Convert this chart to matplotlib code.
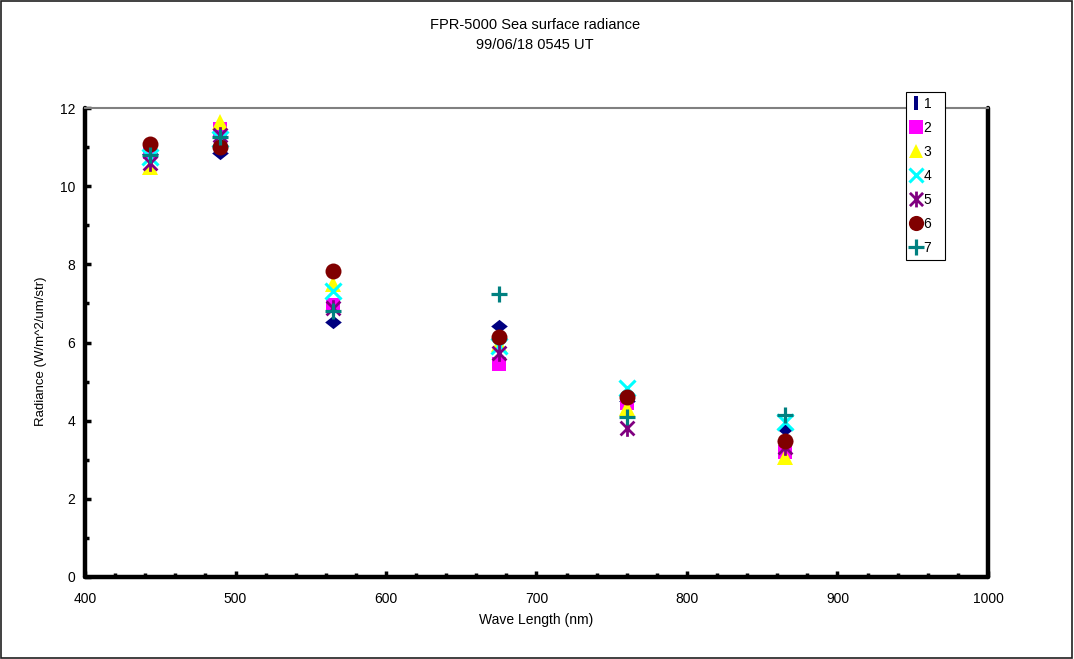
import matplotlib
matplotlib.use("Agg")
import matplotlib.pyplot as plt
from matplotlib.lines import Line2D
from matplotlib.path import Path
from matplotlib.patches import Rectangle
from matplotlib.ticker import MultipleLocator

plt.rcParams['font.family'] = ['Liberation Sans', 'DejaVu Sans']

# Band centre wavelengths (nm)
wavelength = [443, 490, 565, 675, 760, 865]

# Radiance per scan (W/m^2/um/str)
scan1 = [10.82, 10.85, 6.52, 6.42, 4.50, 3.78]
scan2 = [10.88, 11.45, 6.95, 5.45, 4.45, 3.20]
scan3 = [10.50, 11.65, 7.50, 5.95, 4.32, 3.08]
scan4 = [10.75, 11.20, 7.33, 5.90, 4.84, 3.97]
scan5 = [10.58, 11.30, 6.88, 5.73, 3.82, 3.33]
scan6 = [11.07, 11.00, 7.83, 6.15, 4.60, 3.47]
scan7 = [10.80, 11.25, 6.80, 7.25, 4.10, 4.15]

labels = ['1', '2', '3', '4', '5', '6', '7']

# asterisk: an X with a vertical stroke
star_path = Path(
    [(-0.5, -0.5), (0.5, 0.5), (-0.5, 0.5), (0.5, -0.5), (0, -0.6), (0, 0.6)],
    [Path.MOVETO, Path.LINETO, Path.MOVETO, Path.LINETO, Path.MOVETO, Path.LINETO])
bar_path = Path([(-0.12, -0.5), (0.12, -0.5), (0.12, 0.5), (-0.12, 0.5), (-0.12, -0.5)],
                [Path.MOVETO, Path.LINETO, Path.LINETO, Path.LINETO, Path.CLOSEPOLY])
# wide diamond
diamond_path = Path([(0, -0.4), (0.5, 0), (0, 0.4), (-0.5, 0), (0, -0.4)],
                    [Path.MOVETO, Path.LINETO, Path.LINETO, Path.LINETO, Path.CLOSEPOLY])

styles = [
    dict(marker=diamond_path, color='#000080', ms=12, mew=0),
    dict(marker='s', color='#FF00FF', ms=10.5, mew=0),
    dict(marker='^', color='#FFFF00', ms=11, mew=0),
    dict(marker='x', color='#00FFFF', ms=11, mew=2.2, mfc='none'),
    dict(marker=star_path, color='#800080', ms=12, mew=2.0, mfc='none'),
    dict(marker='o', color='#800000', ms=11.5, mew=0),
    dict(marker='+', color='#008080', ms=12, mew=2.3),
]

series = [scan1, scan2, scan3, scan4, scan5, scan6, scan7]

fig = plt.figure(figsize=(10.74, 6.59), dpi=100)
ax = fig.add_axes([85 / 1074, 1 - 577 / 659, (988 - 85) / 1074, (577 - 108) / 659])

for i, (vals, st) in enumerate(zip(series, styles)):
    ax.plot(wavelength, vals, linestyle='none', marker=st['marker'],
            markersize=st['ms'], color=st['color'], markeredgewidth=st['mew'],
            markerfacecolor=st.get('mfc', st['color']), zorder=3 + i,
            clip_on=False)

ax.set_xlim(400, 1000)
ax.set_ylim(0, 12)
ax.xaxis.set_major_locator(MultipleLocator(100))
ax.xaxis.set_minor_locator(MultipleLocator(20))
ax.yaxis.set_major_locator(MultipleLocator(2))
ax.yaxis.set_minor_locator(MultipleLocator(1))

for side in ['left', 'bottom', 'right']:
    ax.spines[side].set_linewidth(3.2)
    ax.spines[side].set_color('black')
    ax.spines[side].set_capstyle('round')
ax.spines['top'].set_linewidth(1.5)
ax.spines['top'].set_color('#808080')

ax.tick_params(which='both', direction='in', color='black', width=2.5,
               labelsize=10, top=False, right=False)
ax.tick_params(which='major', length=4)
ax.tick_params(which='minor', length=3)
ax.tick_params(axis='x', which='major', pad=11)
ax.tick_params(axis='y', which='major', pad=7)

ax.set_xlabel('Wave Length (nm)', fontsize=10, labelpad=5)
ax.set_ylabel('Radiance (W/m^2/um/str)', fontsize=9.5)
ax.yaxis.set_label_coords(-0.042, 0.482)

fig.text(535 / 1074, 1 - 25 / 659, 'FPR-5000 Sea surface radiance',
         ha='center', va='center', fontsize=10.5)
fig.text(535 / 1074, 1 - 45 / 659, '99/06/18 0545 UT',
         ha='center', va='center', fontsize=10.5)

handles = []
for st in styles:
    mk = bar_path if st['marker'] is diamond_path else st['marker']
    handles.append(Line2D([], [], linestyle='none', marker=mk,
                          markersize=st['ms'] if mk is not bar_path else 10,
                          color=st['color'], markeredgewidth=st['mew'],
                          markerfacecolor=st.get('mfc', st['color'])))

leg = fig.legend(handles, [lab + '  ' for lab in labels], loc='upper left',
                 bbox_to_anchor=(906 / 1074, 1 - 92 / 659),
                 frameon=True, fancybox=False, fontsize=10,
                 handlelength=0.8, handletextpad=0.15, labelspacing=0.72,
                 borderpad=0.35, borderaxespad=0, markerscale=0.95)
leg.get_frame().set_edgecolor('black')
leg.get_frame().set_linewidth(0.8)
leg.get_frame().set_facecolor('white')
leg.get_frame().set_alpha(1)

fig.patches.append(Rectangle((0.001, 0.002), 0.997, 0.996, transform=fig.transFigure,
                             fill=False, edgecolor='#202020', linewidth=1.2))

fig.savefig('out.png', dpi=100)
